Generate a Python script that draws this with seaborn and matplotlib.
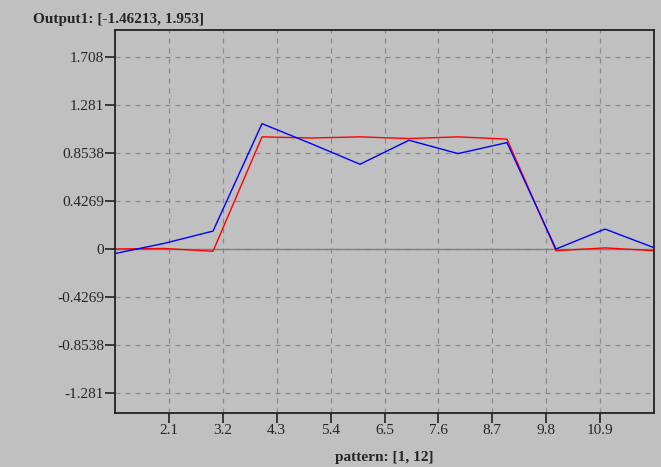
import matplotlib.pyplot as plt
import seaborn as sns
import pandas as pd

# pattern index and the two output series
patterns = [1, 2, 3, 4, 5, 6, 7, 8, 9, 10, 11, 12]
target = [0.0, 0.005, -0.02, 1.0, 0.99, 1.0, 0.985, 1.0, 0.98, -0.015, 0.01, -0.015]
predicted = [-0.04, 0.05, 0.16, 1.118, 0.94, 0.756, 0.97, 0.851, 0.949, 0.0, 0.178, 0.012]

y_ticks = [1.708, 1.281, 0.8538, 0.4269, 0, -0.4269, -0.8538, -1.281]
y_tick_labels = ["1.708", "1.281", "0.8538", "0.4269", "0", "-0.4269", "-0.8538", "-1.281"]
x_ticks = [2.1, 3.2, 4.3, 5.4, 6.5, 7.6, 8.7, 9.8, 10.9]

df = pd.DataFrame({"pattern": patterns, "target": target, "predicted": predicted})

sns.set_style("ticks")
plt.rcParams["font.family"] = ["Liberation Serif", "DejaVu Serif"]
plt.rcParams["font.size"] = 11

bg = "#c0c0c0"
fig = plt.figure(figsize=(6.61, 4.67), dpi=100, facecolor=bg)
ax = fig.add_axes([115 / 661, 1 - 413 / 467, (654 - 115) / 661, (413 - 30) / 467])
ax.set_facecolor(bg)

# grid and zero line
ax.set_axisbelow(True)
ax.grid(True, color="#8a8a8a", linestyle=(0, (4, 4)), linewidth=0.9)
ax.axhline(0, color="#808080", linewidth=1, zorder=1)

sns.lineplot(data=df, x="pattern", y="target", color="red", linewidth=1.0, ax=ax)
sns.lineplot(data=df, x="pattern", y="predicted", color="blue", linewidth=1.0, ax=ax)

ax.set_xlim(1, 12)
ax.set_ylim(-1.46213, 1.953)
ax.set_xticks(x_ticks)
ax.set_xticklabels([str(t) for t in x_ticks])
ax.set_yticks(y_ticks)
ax.set_yticklabels(y_tick_labels)
ax.tick_params(direction="out", length=7, width=1.2, color="#222222", labelsize=11, pad=1)

for s in ax.spines.values():
    s.set_visible(True)
    s.set_color("#222222")
    s.set_linewidth(1.3)

ax.set_ylabel("")
ax.set_xlabel("pattern: [1, 12]", fontweight="bold", fontsize=11, labelpad=10)
fig.text(33 / 661, 1 - 19 / 467, "Output1: [-1.46213, 1.953]", fontweight="bold",
         fontsize=11, va="center", ha="left")

fig.savefig("out.png", dpi=100, facecolor=bg)
